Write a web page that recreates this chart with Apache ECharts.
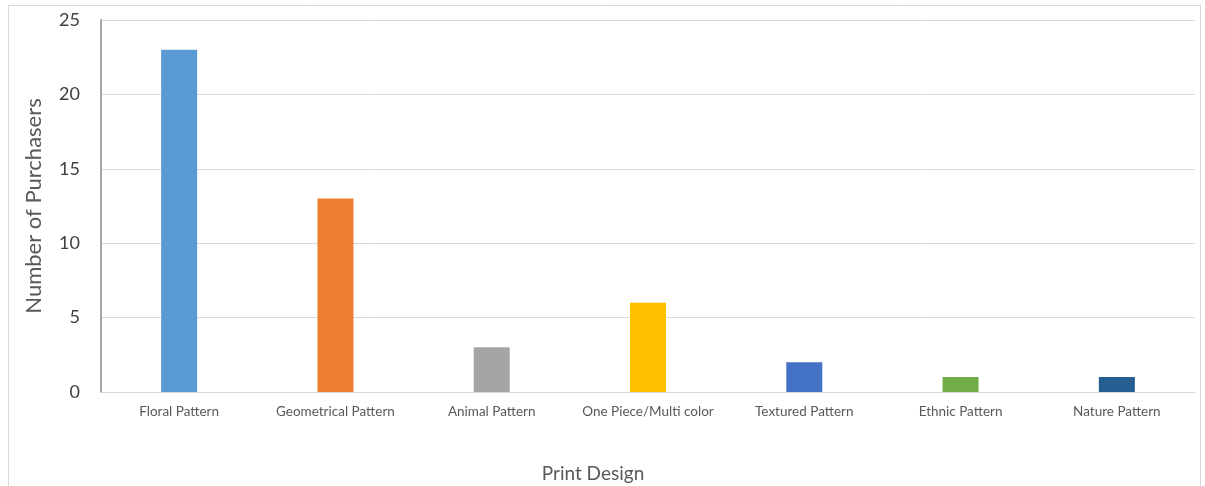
<!DOCTYPE html>
<html><head><meta charset="utf-8">
<script src="https://cdn.jsdelivr.net/npm/echarts@6/dist/echarts.min.js"></script>
<style>html,body{margin:0;padding:0;background:#fff}#c{width:1205px;height:486px}</style>
</head><body><div id="c"></div>
<script>
const categories = ["Floral Pattern","Geometrical Pattern","Animal Pattern","One Piece/Multi color","Textured Pattern","Ethnic Pattern","Nature Pattern"];
const values = [23,13,3,6,2,1,1];
const colors = ["#5B9BD5","#ED7D31","#A5A5A5","#FFC000","#4472C4","#70AD47","#255E91"];
const yTicks = [0,5,10,15,20,25];
const chart = echarts.init(document.getElementById('c'), null, {renderer:'canvas'});
chart.setOption({
  animation:false,
  backgroundColor:'#fff',
  graphic:[{type:'rect',shape:{x:8.5,y:5.5,width:1192,height:520},style:{fill:'none',stroke:'#d9d9d9',lineWidth:1},silent:true,z:-1}],
  grid:{left:101,right:10,top:20,bottom:94,containLabel:false,outerBoundsMode:'none'},
  xAxis:{type:'category',data:categories,
    name:'Print Design',nameLocation:'middle',nameGap:72,
    nameTextStyle:{fontFamily:'Lato',fontSize:19,color:'#595959',padding:[0,110,0,0]},
    axisLine:{lineStyle:{color:'#d9d9d9',width:1}},axisTick:{show:false},
    axisLabel:{fontFamily:'Lato',fontSize:13.5,color:'#595959',margin:13,interval:0}},
  yAxis:{type:'value',min:0,max:25,interval:5,
    name:'Number of Purchasers',nameLocation:'middle',nameGap:56,
    nameTextStyle:{fontFamily:'Lato',fontSize:22,color:'#595959'},
    axisLine:{show:true,lineStyle:{color:'#a6a6a6',width:2}},axisTick:{show:false},
    axisLabel:{fontFamily:'Lato',fontSize:18,color:'#404040',margin:21,
      formatter:v=>yTicks.includes(v)?String(v):''},
    splitLine:{lineStyle:{color:'#d9d9d9',width:1}}},
  series:[{type:'bar',barWidth:36,
    data:values.map((v,i)=>({value:v,itemStyle:{color:colors[i]}}))}]
});
</script></body></html>
